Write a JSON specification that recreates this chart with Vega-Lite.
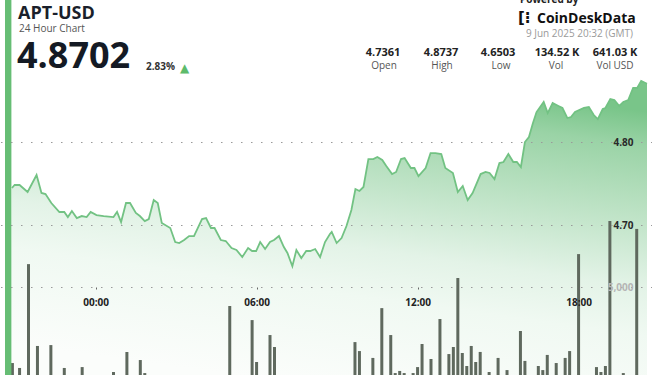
{
  "$schema": "https://vega.github.io/schema/vega-lite/v6.json",
  "width": 652,
  "height": 375,
  "autosize": "none",
  "padding": 0,
  "background": "white",
  "config": {"font": "Open Sans", "view": {"stroke": null}},
  "datasets": {
    "price": [
      {"t":"2025-06-08T20:53Z","p":4.7446},{"t":"2025-06-08T20:59Z","p":4.7482},{"t":"2025-06-08T21:10Z","p":4.7482},{"t":"2025-06-08T21:28Z","p":4.7398},{"t":"2025-06-08T21:48Z","p":4.7602},{"t":"2025-06-08T21:59Z","p":4.7386},{"t":"2025-06-08T22:08Z","p":4.7373},{"t":"2025-06-08T22:21Z","p":4.7265},{"t":"2025-06-08T22:39Z","p":4.7157},{"t":"2025-06-08T22:50Z","p":4.7157},{"t":"2025-06-08T22:58Z","p":4.7096},{"t":"2025-06-08T23:07Z","p":4.7169},{"t":"2025-06-08T23:18Z","p":4.7084},{"t":"2025-06-08T23:29Z","p":4.7108},{"t":"2025-06-08T23:40Z","p":4.7096},{"t":"2025-06-08T23:49Z","p":4.7157},
      {"t":"2025-06-09T00:02Z","p":4.7120},{"t":"2025-06-09T00:18Z","p":4.7108},{"t":"2025-06-09T00:40Z","p":4.7096},{"t":"2025-06-09T00:48Z","p":4.7157},{"t":"2025-06-09T00:57Z","p":4.7036},{"t":"2025-06-09T01:08Z","p":4.7265},{"t":"2025-06-09T01:17Z","p":4.7265},{"t":"2025-06-09T01:30Z","p":4.7145},{"t":"2025-06-09T01:39Z","p":4.7108},{"t":"2025-06-09T01:50Z","p":4.7048},{"t":"2025-06-09T01:59Z","p":4.7072},{"t":"2025-06-09T02:10Z","p":4.7301},{"t":"2025-06-09T02:19Z","p":4.7265},{"t":"2025-06-09T02:28Z","p":4.7024},{"t":"2025-06-09T02:47Z","p":4.6964},{"t":"2025-06-09T02:58Z","p":4.6795},{"t":"2025-06-09T03:07Z","p":4.6783},{"t":"2025-06-09T03:18Z","p":4.6819},{"t":"2025-06-09T03:29Z","p":4.6867},{"t":"2025-06-09T03:40Z","p":4.6867},{"t":"2025-06-09T03:58Z","p":4.7072},{"t":"2025-06-09T04:07Z","p":4.7084},{"t":"2025-06-09T04:18Z","p":4.6964},{"t":"2025-06-09T04:26Z","p":4.6964},{"t":"2025-06-09T04:40Z","p":4.6819},{"t":"2025-06-09T04:51Z","p":4.6807},{"t":"2025-06-09T05:04Z","p":4.6723},{"t":"2025-06-09T05:15Z","p":4.6699},{"t":"2025-06-09T05:28Z","p":4.6614},{"t":"2025-06-09T05:41Z","p":4.6723},{"t":"2025-06-09T05:50Z","p":4.6687},{"t":"2025-06-09T05:59Z","p":4.6687},
      {"t":"2025-06-09T06:08Z","p":4.6795},{"t":"2025-06-09T06:19Z","p":4.6711},{"t":"2025-06-09T06:30Z","p":4.6795},{"t":"2025-06-09T06:39Z","p":4.6819},{"t":"2025-06-09T06:50Z","p":4.6867},{"t":"2025-06-09T07:01Z","p":4.6735},{"t":"2025-06-09T07:09Z","p":4.6663},{"t":"2025-06-09T07:20Z","p":4.6503},{"t":"2025-06-09T07:29Z","p":4.6699},{"t":"2025-06-09T07:40Z","p":4.6602},{"t":"2025-06-09T07:51Z","p":4.6687},{"t":"2025-06-09T08:00Z","p":4.6687},{"t":"2025-06-09T08:11Z","p":4.6711},{"t":"2025-06-09T08:22Z","p":4.6614},{"t":"2025-06-09T08:33Z","p":4.6795},{"t":"2025-06-09T08:44Z","p":4.6892},{"t":"2025-06-09T08:48Z","p":4.6916},{"t":"2025-06-09T08:59Z","p":4.6783},{"t":"2025-06-09T09:10Z","p":4.6843},{"t":"2025-06-09T09:21Z","p":4.6988},{"t":"2025-06-09T09:32Z","p":4.7181},{"t":"2025-06-09T09:41Z","p":4.7434},{"t":"2025-06-09T09:50Z","p":4.7410},{"t":"2025-06-09T09:59Z","p":4.7458},{"t":"2025-06-09T10:10Z","p":4.7795},{"t":"2025-06-09T10:21Z","p":4.7795},{"t":"2025-06-09T10:30Z","p":4.7819},{"t":"2025-06-09T10:41Z","p":4.7783},{"t":"2025-06-09T10:50Z","p":4.7711},{"t":"2025-06-09T11:03Z","p":4.7614},{"t":"2025-06-09T11:12Z","p":4.7639},{"t":"2025-06-09T11:23Z","p":4.7795},{"t":"2025-06-09T11:31Z","p":4.7807},{"t":"2025-06-09T11:45Z","p":4.7687},{"t":"2025-06-09T11:53Z","p":4.7687},
      {"t":"2025-06-09T12:02Z","p":4.7590},{"t":"2025-06-09T12:18Z","p":4.7687},{"t":"2025-06-09T12:29Z","p":4.7867},{"t":"2025-06-09T12:40Z","p":4.7867},{"t":"2025-06-09T12:53Z","p":4.7855},{"t":"2025-06-09T13:02Z","p":4.7687},{"t":"2025-06-09T13:19Z","p":4.7627},{"t":"2025-06-09T13:30Z","p":4.7398},{"t":"2025-06-09T13:41Z","p":4.7470},{"t":"2025-06-09T13:52Z","p":4.7301},{"t":"2025-06-09T14:03Z","p":4.7386},{"t":"2025-06-09T14:21Z","p":4.7614},{"t":"2025-06-09T14:32Z","p":4.7639},{"t":"2025-06-09T14:41Z","p":4.7627},{"t":"2025-06-09T14:52Z","p":4.7554},{"t":"2025-06-09T15:03Z","p":4.7747},{"t":"2025-06-09T15:12Z","p":4.7759},{"t":"2025-06-09T15:23Z","p":4.7855},{"t":"2025-06-09T15:34Z","p":4.7759},{"t":"2025-06-09T15:42Z","p":4.7759},{"t":"2025-06-09T15:51Z","p":4.7699},{"t":"2025-06-09T16:00Z","p":4.8000},{"t":"2025-06-09T16:09Z","p":4.8060},{"t":"2025-06-09T16:18Z","p":4.8229},{"t":"2025-06-09T16:26Z","p":4.8361},{"t":"2025-06-09T16:42Z","p":4.8482},{"t":"2025-06-09T16:51Z","p":4.8349},{"t":"2025-06-09T17:02Z","p":4.8470},{"t":"2025-06-09T17:15Z","p":4.8434},{"t":"2025-06-09T17:24Z","p":4.8410},{"t":"2025-06-09T17:35Z","p":4.8289},{"t":"2025-06-09T17:43Z","p":4.8301},{"t":"2025-06-09T17:52Z","p":4.8361},
      {"t":"2025-06-09T18:12Z","p":4.8410},{"t":"2025-06-09T18:23Z","p":4.8422},{"t":"2025-06-09T18:34Z","p":4.8325},{"t":"2025-06-09T18:43Z","p":4.8277},{"t":"2025-06-09T18:54Z","p":4.8398},{"t":"2025-06-09T19:00Z","p":4.8410},{"t":"2025-06-09T19:11Z","p":4.8518},{"t":"2025-06-09T19:20Z","p":4.8506},{"t":"2025-06-09T19:31Z","p":4.8434},{"t":"2025-06-09T19:40Z","p":4.8482},{"t":"2025-06-09T19:51Z","p":4.8506},{"t":"2025-06-09T20:02Z","p":4.8651},{"t":"2025-06-09T20:11Z","p":4.8651},{"t":"2025-06-09T20:20Z","p":4.8737},{"t":"2025-06-09T20:33Z","p":4.8702}
    ],
    "vol": [
      {"t":"2025-06-08T20:54Z","v":680},{"t":"2025-06-08T21:10Z","v":400},{"t":"2025-06-08T21:30Z","v":6300},{"t":"2025-06-08T21:50Z","v":1650},{"t":"2025-06-08T22:20Z","v":1700},{"t":"2025-06-08T22:50Z","v":400},{"t":"2025-06-08T23:30Z","v":450},
      {"t":"2025-06-09T00:40Z","v":170},{"t":"2025-06-09T01:10Z","v":1300},{"t":"2025-06-09T01:40Z","v":850},{"t":"2025-06-09T01:50Z","v":110},{"t":"2025-06-09T05:00Z","v":3920},{"t":"2025-06-09T05:50Z","v":3120},{"t":"2025-06-09T06:00Z","v":740},{"t":"2025-06-09T06:30Z","v":2270},{"t":"2025-06-09T06:40Z","v":1590},
      {"t":"2025-06-09T09:40Z","v":1870},{"t":"2025-06-09T09:50Z","v":1360},{"t":"2025-06-09T10:20Z","v":970},{"t":"2025-06-09T10:40Z","v":3800},{"t":"2025-06-09T11:00Z","v":2270},{"t":"2025-06-09T11:10Z","v":110},{"t":"2025-06-09T11:20Z","v":230},{"t":"2025-06-09T11:30Z","v":110},{"t":"2025-06-09T11:50Z","v":110},
      {"t":"2025-06-09T12:00Z","v":450},{"t":"2025-06-09T12:10Z","v":1760},{"t":"2025-06-09T12:30Z","v":910},{"t":"2025-06-09T12:50Z","v":3180},{"t":"2025-06-09T13:10Z","v":1190},{"t":"2025-06-09T13:20Z","v":1590},{"t":"2025-06-09T13:30Z","v":5510},{"t":"2025-06-09T13:40Z","v":1250},{"t":"2025-06-09T13:50Z","v":510},{"t":"2025-06-09T14:00Z","v":1650},{"t":"2025-06-09T14:10Z","v":740},{"t":"2025-06-09T14:20Z","v":1310},{"t":"2025-06-09T14:40Z","v":170},{"t":"2025-06-09T15:00Z","v":970},{"t":"2025-06-09T15:20Z","v":280},{"t":"2025-06-09T15:50Z","v":2500},{"t":"2025-06-09T16:00Z","v":800},{"t":"2025-06-09T16:30Z","v":510},{"t":"2025-06-09T16:40Z","v":280},{"t":"2025-06-09T16:50Z","v":1140},{"t":"2025-06-09T17:10Z","v":680},{"t":"2025-06-09T17:30Z","v":970},{"t":"2025-06-09T17:40Z","v":1360},
      {"t":"2025-06-09T18:00Z","v":6870},{"t":"2025-06-09T18:40Z","v":450},{"t":"2025-06-09T18:50Z","v":170},{"t":"2025-06-09T19:00Z","v":510},{"t":"2025-06-09T19:10Z","v":8750},{"t":"2025-06-09T19:40Z","v":110},{"t":"2025-06-09T20:10Z","v":8300}
    ]
  },
  "layer": [
    {
      "data": {"name": "price"},
      "mark": {
        "type": "area",
        "color": {
          "gradient": "linear",
          "x1": 0.35, "y1": 1, "x2": 0.65, "y2": 0,
          "stops": [
            {"offset": 0, "color": "#fbfdfb"},
            {"offset": 0.3, "color": "#f0f9f2"},
            {"offset": 0.45, "color": "#e3f3e7"},
            {"offset": 0.74, "color": "#b3debc"},
            {"offset": 0.89, "color": "#9ad3a6"},
            {"offset": 1, "color": "#79c589"}
          ]
        }
      },
      "encoding": {
        "x": {
          "field": "t", "type": "temporal",
          "scale": {"type": "utc", "domain": [1749415046000, 1749501180000]},
          "axis": {
            "orient": "bottom", "offset": -88, "title": null, "domain": false, "grid": false,
            "values": [1749427200000, 1749448800000, 1749470400000, 1749492000000],
            "format": "%H:%M", "labelFontSize": 10, "labelFontWeight": "bold", "labelColor": "#222222",
            "tickSize": 2, "tickColor": "#666666", "labelPadding": 8, "labelFlush": false, "labelOverlap": false, "zindex": 1
          }
        },
        "y": {
          "field": "p", "type": "quantitative",
          "scale": {"domain": [4.5193, 4.9711], "zero": false, "nice": false},
          "axis": null
        },
        "y2": {"datum": 4.5193}
      }
    },
    {
      "data": {"name": "price"},
      "mark": {"type": "line", "color": "#72c283", "strokeWidth": 1.8},
      "encoding": {
        "x": {"field": "t", "type": "temporal"},
        "y": {
          "field": "p", "type": "quantitative",
          "scale": {"domain": [4.5193, 4.9711], "zero": false, "nice": false},
          "axis": {
            "orient": "right", "offset": -19, "title": null, "values": [4.7, 4.8], "format": ".2f",
            "labelAlign": "right", "labelBaseline": "middle", "labelPadding": 0, "ticks": false, "domain": false,
            "grid": true, "gridColor": "#9a9a9a", "gridDash": [1.5, 8.5], "gridWidth": 1.2,
            "labelFontSize": 10, "labelFontWeight": "bold", "labelColor": "#2a2a2a", "zindex": 1
          }
        }
      }
    },
    {
      "data": {"name": "vol"},
      "mark": {"type": "bar", "size": 3, "color": "#5f695e"},
      "encoding": {
        "x": {"field": "t", "type": "temporal"},
        "y": {
          "field": "v", "type": "quantitative",
          "scale": {"domain": [0, 21307], "nice": false},
          "axis": {
            "orient": "right", "offset": -19, "title": null, "values": [5000], "format": ",.0f",
            "labelAlign": "right", "labelBaseline": "middle", "labelPadding": 0, "ticks": false, "domain": false,
            "grid": true, "gridColor": "#9a9a9a", "gridDash": [1.5, 8.5], "gridWidth": 1.2,
            "labelFontSize": 10, "labelFontWeight": "bold", "labelColor": "#b5b5b5", "zindex": 1
          }
        }
      }
    },
    {
      "data": {"values": [{}]},
      "mark": {"type": "rect", "color": "#66bd74"},
      "encoding": {
        "x": {"datum": 1749415046000, "type": "temporal"},
        "x2": {"datum": 1749415904000}
      }
    },
    {"data": {"values": [{}]}, "mark": {"type": "text", "text": "APT-USD", "x": 18, "y": 19, "align": "left", "baseline": "alphabetic", "fontSize": 18, "fontWeight": "bold", "color": "#1a1f2b"}},
    {"data": {"values": [{}]}, "mark": {"type": "text", "text": "24 Hour Chart", "x": 19, "y": 32, "align": "left", "baseline": "alphabetic", "fontSize": 10, "color": "#555555"}},
    {"data": {"values": [{}]}, "mark": {"type": "text", "text": "4.8702", "x": 17, "y": 68, "align": "left", "baseline": "alphabetic", "fontSize": 36, "fontWeight": "bold", "color": "#141a24"}},
    {"data": {"values": [{}]}, "mark": {"type": "text", "text": "2.83%", "x": 146, "y": 70, "align": "left", "baseline": "alphabetic", "fontSize": 10, "fontWeight": "bold", "color": "#333333"}},
    {"data": {"values": [{}]}, "mark": {"type": "text", "text": "▲", "x": 184.5, "y": 72, "align": "center", "baseline": "alphabetic", "fontSize": 12, "font": "DejaVu Sans", "color": "#5dbb6b"}},
    {"data": {"values": [{}]}, "mark": {"type": "text", "text": "Powered by", "x": 520, "y": 3, "align": "left", "baseline": "alphabetic", "fontSize": 10, "fontWeight": "bold", "color": "#222222"}},
    {"data": {"values": [{}]}, "mark": {"type": "text", "text": "[⁝", "x": 518, "y": 23, "align": "left", "baseline": "alphabetic", "fontSize": 15, "fontWeight": "bold", "font": "DejaVu Sans", "color": "#111111"}},
    {"data": {"values": [{}]}, "mark": {"type": "text", "text": "CoinDeskData", "x": 537, "y": 23, "align": "left", "baseline": "alphabetic", "fontSize": 14, "fontWeight": "bold", "color": "#111111"}},
    {"data": {"values": [{}]}, "mark": {"type": "text", "text": "9 Jun 2025 20:32 (GMT)", "x": 633, "y": 37, "align": "right", "baseline": "alphabetic", "fontSize": 10, "color": "#9a9a9a"}},
    {"data": {"values": [{}]}, "mark": {"type": "text", "text": "4.7361", "x": 383, "y": 56, "align": "center", "baseline": "alphabetic", "fontSize": 11, "fontWeight": "bold", "color": "#222222"}},
    {"data": {"values": [{}]}, "mark": {"type": "text", "text": "4.8737", "x": 441, "y": 56, "align": "center", "baseline": "alphabetic", "fontSize": 11, "fontWeight": "bold", "color": "#222222"}},
    {"data": {"values": [{}]}, "mark": {"type": "text", "text": "4.6503", "x": 498, "y": 56, "align": "center", "baseline": "alphabetic", "fontSize": 11, "fontWeight": "bold", "color": "#222222"}},
    {"data": {"values": [{}]}, "mark": {"type": "text", "text": "134.52 K", "x": 557, "y": 56, "align": "center", "baseline": "alphabetic", "fontSize": 11, "fontWeight": "bold", "color": "#222222"}},
    {"data": {"values": [{}]}, "mark": {"type": "text", "text": "641.03 K", "x": 615, "y": 56, "align": "center", "baseline": "alphabetic", "fontSize": 11, "fontWeight": "bold", "color": "#222222"}},
    {"data": {"values": [{}]}, "mark": {"type": "text", "text": "Open", "x": 384, "y": 69, "align": "center", "baseline": "alphabetic", "fontSize": 10, "color": "#555555"}},
    {"data": {"values": [{}]}, "mark": {"type": "text", "text": "High", "x": 442, "y": 69, "align": "center", "baseline": "alphabetic", "fontSize": 10, "color": "#555555"}},
    {"data": {"values": [{}]}, "mark": {"type": "text", "text": "Low", "x": 501, "y": 69, "align": "center", "baseline": "alphabetic", "fontSize": 10, "color": "#555555"}},
    {"data": {"values": [{}]}, "mark": {"type": "text", "text": "Vol", "x": 556, "y": 69, "align": "center", "baseline": "alphabetic", "fontSize": 10, "color": "#555555"}},
    {"data": {"values": [{}]}, "mark": {"type": "text", "text": "Vol USD", "x": 615, "y": 69, "align": "center", "baseline": "alphabetic", "fontSize": 10, "color": "#555555"}}
  ],
  "resolve": {"scale": {"y": "independent"}, "axis": {"y": "independent"}}
}
